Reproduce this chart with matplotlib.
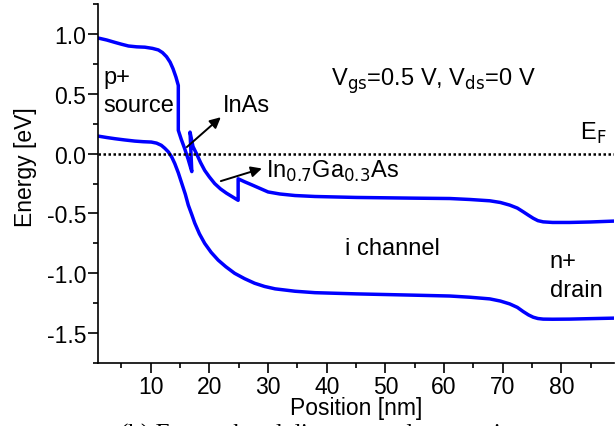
import numpy as np
import matplotlib.pyplot as plt

plt.rcParams['font.family'] = ['Liberation Sans', 'DejaVu Sans']

# conduction band edge (position in nm, energy in eV)
ec_x = [1.0, 2.5, 3.9, 5.0, 6.2, 7.6, 9.0, 10.3, 11.3, 12.0, 12.7, 13.3, 13.8,
        14.3, 14.7, 14.7, 15.2, 15.8, 16.4, 17.0, 16.7, 17.2, 17.8, 18.5, 19.2,
        20.0, 20.9, 21.9, 22.9, 23.9, 24.9, 24.9, 26.0, 27.2, 28.6, 30.0, 32.0,
        34.6, 38.0, 45.0, 55.0, 61.0, 64.4, 67.8, 69.6, 71.2, 72.5, 73.5, 74.4,
        75.2, 76.0, 76.9, 78.5, 81.4, 85.0, 88.8]
ec_y = [0.967, 0.95, 0.93, 0.915, 0.90, 0.893, 0.89, 0.88, 0.867, 0.845, 0.81, 0.765, 0.71,
        0.64, 0.57, 0.195, 0.12, 0.04, -0.05, -0.15, 0.18, 0.06, 0.0, -0.075, -0.14,
        -0.195, -0.25, -0.295, -0.33, -0.36, -0.39, -0.21, -0.235, -0.26, -0.29, -0.32, -0.337,
        -0.35, -0.358, -0.366, -0.372, -0.375, -0.383, -0.394, -0.408, -0.43, -0.455, -0.486, -0.515,
        -0.54, -0.56, -0.57, -0.575, -0.575, -0.571, -0.564]

# valence band edge
ev_x = [1.0, 2.5, 3.9, 5.5, 7.3, 8.7, 10.1, 11.0, 11.8, 12.4, 13.0, 13.6, 14.1,
        14.7, 15.3, 15.9, 16.4, 17.0, 17.5, 18.3, 19.2, 20.3, 21.5, 22.8, 24.3,
        26.0, 27.7, 29.4, 31.2, 34.6, 38.0, 45.0, 55.0, 61.0, 64.4, 67.8, 69.6,
        71.2, 72.5, 73.5, 74.4, 75.2, 76.0, 76.9, 78.5, 81.4, 85.0, 88.8]
ev_y = [0.147, 0.135, 0.125, 0.115, 0.105, 0.10, 0.097, 0.088, 0.07, 0.045, 0.015, -0.03, -0.083,
        -0.16, -0.25, -0.34, -0.43, -0.51, -0.58, -0.67, -0.75, -0.825, -0.89, -0.945, -1.0,
        -1.045, -1.083, -1.11, -1.13, -1.15, -1.162, -1.172, -1.183, -1.19, -1.2, -1.214, -1.232,
        -1.256, -1.285, -1.32, -1.348, -1.367, -1.378, -1.383, -1.384, -1.383, -1.379, -1.375]

x_major = [10, 20, 30, 40, 50, 60, 70, 80]
y_major = [-1.5, -1.0, -0.5, 0.0, 0.5, 1.0]

fig = plt.figure(figsize=(6.16, 4.27), dpi=100)
ax = fig.add_axes([0.159, 0.1475, 0.838, 0.8405])

ax.plot(ec_x, ec_y, color='#0000ff', lw=2.5, solid_joinstyle='round')
ax.plot(ev_x, ev_y, color='#0000ff', lw=2.5, solid_joinstyle='round')
ax.axhline(0.0, color='black', lw=1.8, ls=(0, (1, 1)))

ax.set_xlim(1, 89)
ax.set_ylim(-1.75, 1.25)
ax.set_xticks(x_major)
ax.set_xticks(np.arange(5, 90, 10), minor=True)
ax.set_yticks(y_major)
ax.set_yticklabels(['%.1f' % v for v in y_major])
ax.set_yticks(np.arange(-1.75, 1.3, 0.5), minor=True)
ax.tick_params(which='major', direction='out', length=7, width=1.2, labelsize=16.5, pad=1.5)
ax.tick_params(which='minor', direction='out', length=3.5, width=1.2)
for s in ['top', 'right']:
    ax.spines[s].set_visible(False)
for s in ['left', 'bottom']:
    ax.spines[s].set_linewidth(1.2)

ax.set_xlabel('Position [nm]', fontsize=16.5, labelpad=-1)
ax.set_ylabel('Energy [eV]', fontsize=16.5)
ax.yaxis.set_label_coords(-0.118, 0.549)

fs = 17
ax.text(1.9, 0.59, 'p+', fontsize=fs, va='baseline', ha='left')
ax.text(1.9, 0.36, 'source', fontsize=fs, va='baseline', ha='left')
ax.text(22.35, 0.355, 'InAs', fontsize=fs, va='baseline', ha='left')
ax.annotate('', xy=(22.3, 0.32), xytext=(15.8, 0.04),
            arrowprops=dict(arrowstyle='-|>', color='black', lw=1.4, mutation_scale=16))
ax.text(29.7, -0.195, r'In$_{0.7}$Ga$_{0.3}$As', fontsize=fs, va='baseline', ha='left')
ax.annotate('', xy=(29.4, -0.117), xytext=(21.5, -0.236),
            arrowprops=dict(arrowstyle='-|>', color='black', lw=1.4, mutation_scale=16))
ax.text(40.8, 0.575, r'V$_{\rm gs}$=0.5 V, V$_{\rm ds}$=0 V', fontsize=fs, va='baseline', ha='left')
ax.text(83.1, 0.125, r'E$_{\rm F}$', fontsize=fs, va='baseline', ha='left')
ax.text(43.1, -0.84, 'i channel', fontsize=fs, va='baseline', ha='left')
ax.text(78.0, -0.944, 'n+', fontsize=fs, va='baseline', ha='left')
ax.text(78.0, -1.186, 'drain', fontsize=fs, va='baseline', ha='left')

# figure caption, partly below the bottom edge of the canvas
fig.text(0.195, 0.008, '(b) Energy band diagram and comparison', fontsize=18,
         family='Liberation Serif', ha='left', va='top')

fig.savefig('out.png', dpi=100)
